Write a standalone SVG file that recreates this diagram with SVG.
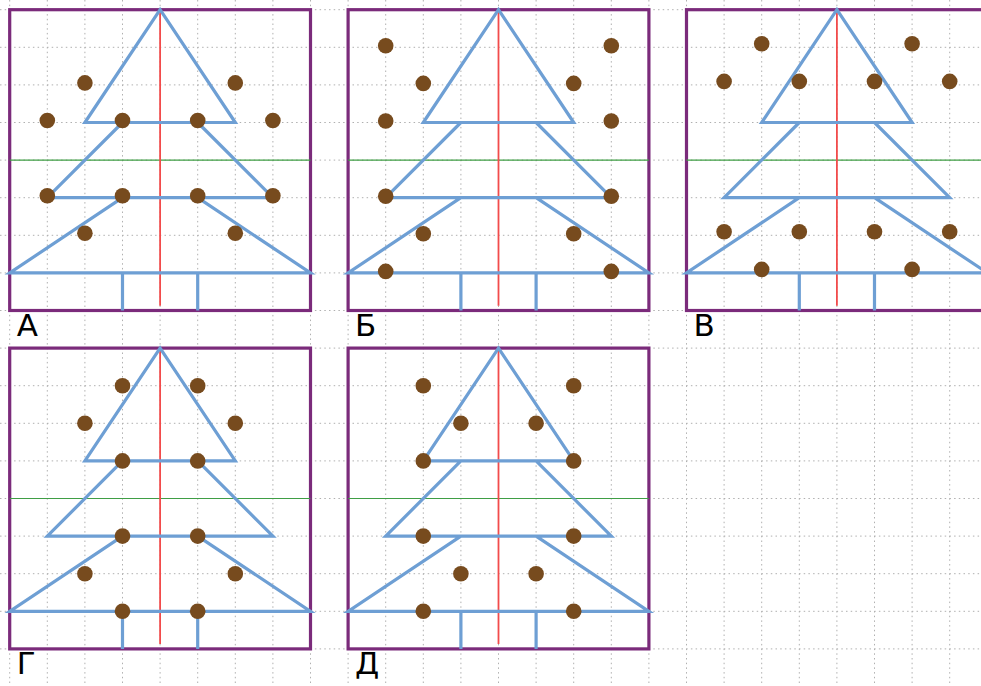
<svg xmlns="http://www.w3.org/2000/svg" xmlns:xlink="http://www.w3.org/1999/xlink" width="981" height="686" viewBox="0 0 981 686">
<style>
.grid{fill:none;stroke:#b0b0b0;stroke-width:1;stroke-dasharray:1.5 3.2}
.border{fill:none;stroke:#7b2b7b;stroke-width:3.2}
.tree{fill:none;stroke:#6e9fd4;stroke-width:3.2;stroke-linejoin:miter}
.axis{fill:none;stroke:#f24b4b;stroke-width:1.8}
.mid{fill:none;stroke:#3f9e45;stroke-width:1.2}
.dot{fill:#774b1e}
.lbl{font-family:"DejaVu Sans","Liberation Sans",sans-serif;font-size:31px;fill:#000}
</style>
<defs>
<g id="tree">
<rect class="border" x="0" y="0" width="300.8" height="300.8"/>
<path class="mid" d="M0,150.4H300.8"/>
<path class="axis" d="M150.4,0V296"/>
<path class="tree" d="M150.4,0L75.2,112.8H225.6Z M112.8,112.8L37.6,188H263.2L188,112.8 M112.8,188L0,263.2H300.8L188,188 M112.8,263.2V300.8 M188,263.2V300.8"/>
</g>
</defs>
<rect x="0" y="0" width="981" height="686" fill="#ffffff"/>
<g id="grid">
<path class="grid" d="M9.7,0V686 M47.3,0V686 M84.9,0V686 M122.5,0V686 M160.1,0V686 M197.7,0V686 M235.3,0V686 M272.9,0V686 M310.5,0V686 M348.1,0V686 M385.7,0V686 M423.3,0V686 M460.9,0V686 M498.5,0V686 M536.1,0V686 M573.7,0V686 M611.3,0V686 M648.9,0V686 M686.5,0V686 M724.1,0V686 M761.7,0V686 M799.3,0V686 M836.9,0V686 M874.5,0V686 M912.1,0V686 M949.7,0V686"/>
<path class="grid" d="M0,9.7H981 M0,47.3H981 M0,84.9H981 M0,122.5H981 M0,160.1H981 M0,197.7H981 M0,235.3H981 M0,272.9H981 M0,310.5H981 M0,348.1H981 M0,385.7H981 M0,423.3H981 M0,460.9H981 M0,498.5H981 M0,536.1H981 M0,573.7H981 M0,611.3H981 M0,648.9H981"/>
</g>
<g id="panelA" transform="translate(9.7,9.7)">
<use xlink:href="#tree"/>
<g transform="translate(0,-2)">
<circle class="dot" cx="75.2" cy="75.2" r="7.8"/><circle class="dot" cx="225.6" cy="75.2" r="7.8"/>
<circle class="dot" cx="37.6" cy="112.8" r="7.8"/><circle class="dot" cx="112.8" cy="112.8" r="7.8"/><circle class="dot" cx="188" cy="112.8" r="7.8"/><circle class="dot" cx="263.2" cy="112.8" r="7.8"/>
<circle class="dot" cx="37.6" cy="188" r="7.8"/><circle class="dot" cx="112.8" cy="188" r="7.8"/><circle class="dot" cx="188" cy="188" r="7.8"/><circle class="dot" cx="263.2" cy="188" r="7.8"/>
<circle class="dot" cx="75.2" cy="225.6" r="7.8"/><circle class="dot" cx="225.6" cy="225.6" r="7.8"/>
</g>
<text class="lbl" x="7" y="326">А</text>
</g>
<g id="panelB" transform="translate(348.1,9.7)">
<use xlink:href="#tree"/>
<g transform="translate(0,-1.5)">
<circle class="dot" cx="37.6" cy="37.6" r="7.8"/><circle class="dot" cx="263.2" cy="37.6" r="7.8"/>
<circle class="dot" cx="75.2" cy="75.2" r="7.8"/><circle class="dot" cx="225.6" cy="75.2" r="7.8"/>
<circle class="dot" cx="37.6" cy="112.8" r="7.8"/><circle class="dot" cx="263.2" cy="112.8" r="7.8"/>
<circle class="dot" cx="37.6" cy="188" r="7.8"/><circle class="dot" cx="263.2" cy="188" r="7.8"/>
<circle class="dot" cx="75.2" cy="225.6" r="7.8"/><circle class="dot" cx="225.6" cy="225.6" r="7.8"/>
<circle class="dot" cx="37.6" cy="263.2" r="7.8"/><circle class="dot" cx="263.2" cy="263.2" r="7.8"/>
</g>
<text class="lbl" x="7" y="326">Б</text>
</g>
<g id="panelV" transform="translate(686.5,9.7)">
<use xlink:href="#tree"/>
<g transform="translate(0,-3.5)">
<circle class="dot" cx="75.2" cy="37.6" r="7.8"/><circle class="dot" cx="225.6" cy="37.6" r="7.8"/>
<circle class="dot" cx="37.6" cy="75.2" r="7.8"/><circle class="dot" cx="112.8" cy="75.2" r="7.8"/><circle class="dot" cx="188" cy="75.2" r="7.8"/><circle class="dot" cx="263.2" cy="75.2" r="7.8"/>
<circle class="dot" cx="37.6" cy="225.6" r="7.8"/><circle class="dot" cx="112.8" cy="225.6" r="7.8"/><circle class="dot" cx="188" cy="225.6" r="7.8"/><circle class="dot" cx="263.2" cy="225.6" r="7.8"/>
<circle class="dot" cx="75.2" cy="263.2" r="7.8"/><circle class="dot" cx="225.6" cy="263.2" r="7.8"/>
</g>
<text class="lbl" x="7" y="326">В</text>
</g>
<g id="panelG" transform="translate(9.7,348.1)">
<use xlink:href="#tree"/>
<circle class="dot" cx="112.8" cy="37.6" r="7.8"/><circle class="dot" cx="188" cy="37.6" r="7.8"/>
<circle class="dot" cx="75.2" cy="75.2" r="7.8"/><circle class="dot" cx="225.6" cy="75.2" r="7.8"/>
<circle class="dot" cx="112.8" cy="112.8" r="7.8"/><circle class="dot" cx="188" cy="112.8" r="7.8"/>
<circle class="dot" cx="112.8" cy="188" r="7.8"/><circle class="dot" cx="188" cy="188" r="7.8"/>
<circle class="dot" cx="75.2" cy="225.6" r="7.8"/><circle class="dot" cx="225.6" cy="225.6" r="7.8"/>
<circle class="dot" cx="112.8" cy="263.2" r="7.8"/><circle class="dot" cx="188" cy="263.2" r="7.8"/>
<text class="lbl" x="7" y="326">Г</text>
</g>
<g id="panelD" transform="translate(348.1,348.1)">
<use xlink:href="#tree"/>
<circle class="dot" cx="75.2" cy="37.6" r="7.8"/><circle class="dot" cx="225.6" cy="37.6" r="7.8"/>
<circle class="dot" cx="112.8" cy="75.2" r="7.8"/><circle class="dot" cx="188" cy="75.2" r="7.8"/>
<circle class="dot" cx="75.2" cy="112.8" r="7.8"/><circle class="dot" cx="225.6" cy="112.8" r="7.8"/>
<circle class="dot" cx="75.2" cy="188" r="7.8"/><circle class="dot" cx="225.6" cy="188" r="7.8"/>
<circle class="dot" cx="112.8" cy="225.6" r="7.8"/><circle class="dot" cx="188" cy="225.6" r="7.8"/>
<circle class="dot" cx="75.2" cy="263.2" r="7.8"/><circle class="dot" cx="225.6" cy="263.2" r="7.8"/>
<text class="lbl" x="7" y="326">Д</text>
</g>
<g id="connectors"/>
</svg>
